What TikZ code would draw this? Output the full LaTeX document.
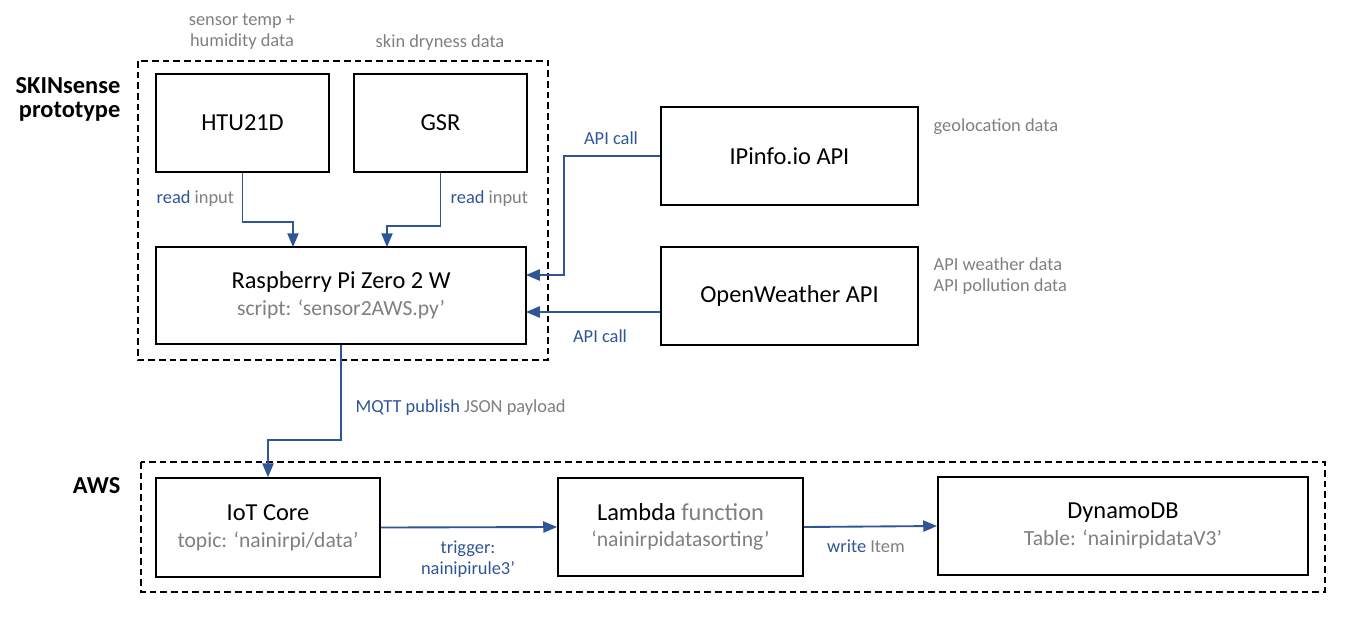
\documentclass[tikz,border=0pt]{standalone}
\usepackage{fontspec}
\setmainfont{Carlito}
\usepackage{xcolor}
\usetikzlibrary{arrows}

\definecolor{flowblue}{RGB}{47,85,151}
\definecolor{subgray}{RGB}{127,127,127}
\newcommand{\mainsz}{\fontsize{18.3}{21}\selectfont}
\newcommand{\subsz}{\fontsize{16.2}{20}\selectfont}
\newcommand{\lblsz}{\fontsize{13.8}{15.75}\selectfont}

\tikzset{
	unitbox/.style={draw, line width=1.5pt, inner sep=0pt, align=center, font=\mainsz},
	groupframe/.style={dashed, line width=1.2pt, dash pattern=on 5pt off 3pt},
	flow/.style={line width=1.4pt, color=flowblue, ->, >=triangle 45},
	graylbl/.style={color=subgray, font=\lblsz, align=center},
	bluelbl/.style={color=flowblue, font=\lblsz, align=center},
	grouplbl/.style={font=\mainsz\bfseries, align=right, anchor=east}
}

\begin{document}
\begin{tikzpicture}[x=0.75pt, y=-0.75pt]
	\useasboundingbox (0,0) rectangle (1352,618);
	%
	% group frames
	\draw[groupframe] (138,61) rectangle (548,360); %prototype
	\draw[groupframe] (141,462) rectangle (1325,592); %aws
	\node[grouplbl] (protolbl) at (125,99) {SKINsense\\[-3pt]prototype};
	\node[grouplbl] (awslbl) at (125,486) {AWS};
	%
	% boxes
	\node[unitbox, minimum width=129.75pt, minimum height=73.5pt] (htu) at (242.5,123) {HTU21D};
	\node[unitbox, minimum width=129.75pt, minimum height=73.5pt] (gsr) at (440.5,123) {GSR};
	\node[unitbox, minimum width=277.5pt, minimum height=72.75pt] (rpi) at (341,295.5)
		{Raspberry Pi Zero 2 W\\[-1pt]{\subsz\color{subgray}script: ‘sensor2AWS.py’}};
	\node[unitbox, minimum width=192.75pt, minimum height=73.5pt] (ipinfo) at (789.5,156) {IPinfo.io API};
	\node[unitbox, minimum width=192.75pt, minimum height=73.5pt] (openw) at (789.5,296) {OpenWeather API};
	\node[unitbox, minimum width=168pt, minimum height=74pt] (iot) at (268,527.5)
		{IoT Core\\[-1pt]{\subsz\color{subgray}topic: ‘nainirpi/data’}};
	\node[unitbox, minimum width=183.75pt, minimum height=73.5pt] (lambda) at (680.5,527)
		{Lambda {\color{subgray}function}\\[-1pt]{\subsz\color{subgray}‘nainirpidatasorting’}};
	\node[unitbox, minimum width=277.5pt, minimum height=73.5pt] (dynamo) at (1123,526)
		{DynamoDB\\[-1pt]{\subsz\color{subgray}Table: ‘nainirpidataV3’}};
	%
	% connector end points
	\coordinate (rpiinA) at (293,247);
	\coordinate (rpiinB) at (387,247);
	\coordinate (apibend) at (564,275);
	\coordinate (rpiinC) at (526,275);
	\coordinate (rpiinD) at (526,312);
	%
	% connectors
	\draw[flow] (htu.south) -- ++(0,49) -| (rpiinA);
	\draw[flow] (gsr.south) -- ++(0,53) -| (rpiinB);
	\draw[flow] (ipinfo.west) -| (apibend) -- (rpiinC);
	\draw[flow] (rpiinD -| openw.west) -- (rpiinD);
	\draw[flow] (rpi.south) -- ++(0,95) -| (iot.north);
	\draw[flow] (iot.east) -- (lambda.west);
	\draw[flow] (lambda.east) -- (dynamo.west);
	%
	% nodes -- text
	\node[graylbl] (htudata) at (242,32) {sensor temp +\\humidity data};
	\node[graylbl] (gsrdata) at (440,43) {skin dryness data};
	\node[graylbl, anchor=west] (readA) at (152,199) {{\color{flowblue}read} input};
	\node[graylbl, anchor=west] (readB) at (446,199) {{\color{flowblue}read} input};
	\node[bluelbl] (callA) at (611,138) {API call};
	\node[bluelbl] (callB) at (600,336) {API call};
	\node[graylbl, anchor=west] (geodata) at (929,127) {geolocation data};
	\node[graylbl, anchor=west, align=left] (weatherdata) at (929,276) {API weather data\\API pollution data};
	\node[graylbl, anchor=west] (mqtt) at (351,408) {{\color{flowblue}MQTT publish} JSON payload};
	\node[bluelbl] (trigger) at (468,559) {trigger:\\nainipirule3’};
	\node[graylbl] (write) at (866,546) {{\color{flowblue}write} Item};
\end{tikzpicture}
\end{document}
